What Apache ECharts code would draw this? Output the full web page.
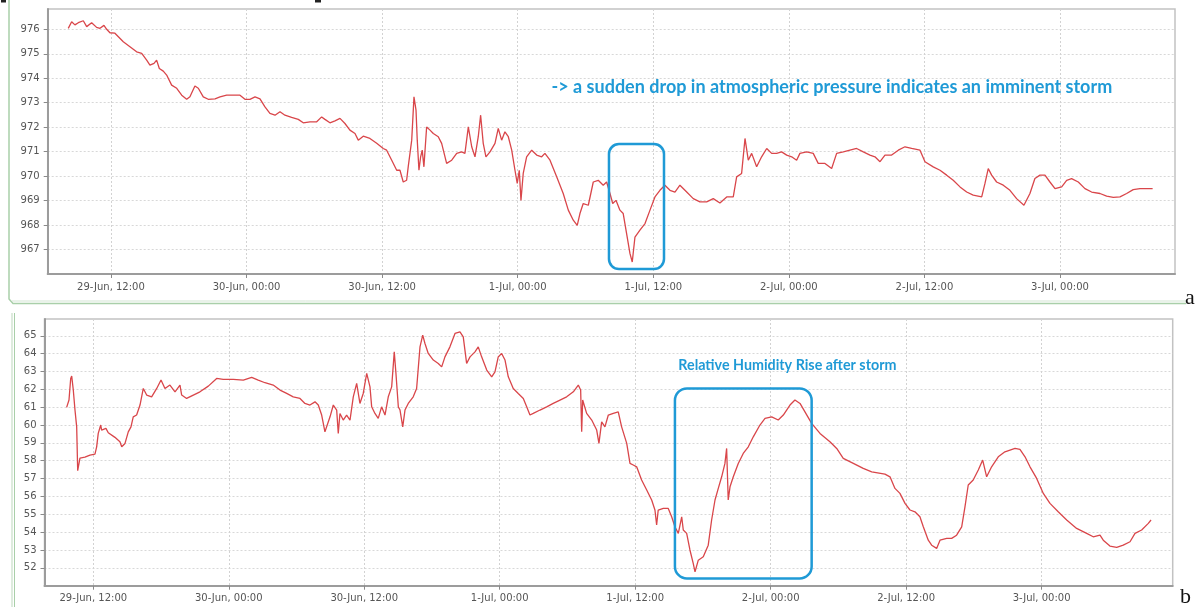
<!DOCTYPE html>
<html>
<head>
<meta charset="utf-8">
<script src="https://cdn.jsdelivr.net/npm/echarts@6/dist/echarts.min.js"></script>
<style>
html,body{margin:0;padding:0;background:#fff;}
#chart{width:1203px;height:607px;}
</style>
</head>
<body>
<div id="chart"></div>
<script>
// Time is counted in hours from 29-Jun 00:00.
const timeTickHours = [12, 24, 36, 48, 60, 72, 84, 96];
const timeTickLabels = ['29-Jun, 12:00', '30-Jun, 00:00', '30-Jun, 12:00', '1-Jul, 00:00',
  '1-Jul, 12:00', '2-Jul, 00:00', '2-Jul, 12:00', '3-Jul, 00:00'];
const pressureTicks = [967, 968, 969, 970, 971, 972, 973, 974, 975, 976];
const humidityTicks = [52, 53, 54, 55, 56, 57, 58, 59, 60, 61, 62, 63, 64, 65];

// (a) atmospheric pressure
const pressureHours = [8.22,8.52,8.81,9.11,9.55,9.85,10.29,10.73,11.03,11.38,11.62,11.91,12.35,13.09,13.68,14.27,14.72,15.16,15.45,15.81,16.04,16.28,16.63,16.93,17.37,17.82,18.26,18.70,18.99,19.43,19.73,20.17,20.61,21.21,21.65,22.24,22.82,23.42,23.86,24.30,24.75,25.19,25.63,26.07,26.52,26.96,27.40,27.99,28.58,29.02,29.61,30.21,30.65,30.94,31.38,31.83,32.27,32.71,33.15,33.60,33.89,34.33,34.92,35.52,36.10,36.40,36.85,37.29,37.58,37.87,38.17,38.31,38.62,38.82,39.00,39.11,39.26,39.41,39.55,39.70,39.94,40.24,40.53,40.97,41.27,41.71,42.16,42.60,43.04,43.33,43.63,43.93,44.22,44.51,44.72,44.95,45.19,45.55,45.99,46.28,46.58,46.87,47.17,47.47,47.76,47.96,48.14,48.29,48.49,48.79,49.24,49.68,50.12,50.41,50.86,51.45,52.03,52.48,52.92,53.27,53.51,53.80,54.25,54.69,55.13,55.57,55.87,56.17,56.41,56.70,57.05,57.34,57.64,57.94,58.14,58.38,58.82,59.27,59.71,60.15,60.59,61.03,61.48,61.92,62.36,62.96,63.54,64.13,64.73,65.31,65.90,66.50,67.08,67.38,67.82,68.12,68.41,68.71,69.15,69.59,70.04,70.48,70.92,71.36,71.81,72.25,72.69,72.98,73.58,74.16,74.60,75.20,75.79,76.23,76.82,77.41,78.00,78.59,79.18,79.62,80.07,80.51,81.10,81.69,82.28,82.87,83.61,84.05,84.78,85.38,85.97,86.55,87.15,87.74,88.32,89.07,89.36,89.65,89.95,90.39,90.98,91.57,92.16,92.81,93.34,93.78,94.23,94.67,95.11,95.56,96.15,96.59,97.03,97.62,98.21,98.80,99.54,100.13,100.72,101.31,101.90,102.48,103.08,103.67,104.20];
const pressureValues = [976.04,976.31,976.18,976.27,976.35,976.11,976.27,976.08,976.04,976.16,976.00,975.86,975.84,975.49,975.29,975.08,975.02,974.74,974.54,974.61,974.74,974.40,974.29,974.13,973.72,973.59,973.31,973.14,973.24,973.68,973.59,973.24,973.14,973.16,973.24,973.31,973.31,973.31,973.14,973.14,973.24,973.16,972.83,972.56,972.49,972.63,972.49,972.40,972.32,972.18,972.22,972.22,972.42,972.32,972.18,972.26,972.36,972.15,971.88,971.74,971.47,971.63,971.54,971.34,971.13,971.06,970.65,970.24,970.24,969.76,969.83,970.38,971.47,973.24,972.70,971.47,970.24,970.79,971.06,970.38,972.01,971.88,971.74,971.61,971.34,970.52,970.65,970.93,970.99,970.93,972.01,971.20,970.79,971.61,972.49,971.34,970.79,970.99,971.34,971.95,971.47,971.81,971.61,971.06,970.24,969.70,970.24,969.01,970.11,970.79,971.06,970.86,970.79,970.93,970.65,969.97,969.29,968.61,968.20,967.99,968.47,968.88,968.81,969.76,969.83,969.63,969.76,969.29,968.88,969.01,968.61,968.47,967.65,966.83,966.49,967.51,967.79,968.06,968.61,969.15,969.42,969.63,969.42,969.35,969.63,969.35,969.08,968.95,968.95,969.08,968.90,969.15,969.15,969.97,970.11,971.54,970.65,970.93,970.38,970.79,971.13,970.93,970.93,970.99,970.86,970.79,970.65,970.93,970.99,970.93,970.52,970.52,970.31,970.93,970.99,971.06,971.13,970.99,970.86,970.79,970.59,970.86,970.86,971.06,971.20,971.13,971.06,970.59,970.38,970.24,970.04,969.83,969.56,969.35,969.22,969.15,969.70,970.31,970.04,969.76,969.63,969.42,969.08,968.81,969.29,969.90,970.04,970.04,969.76,969.49,969.56,969.83,969.90,969.76,969.49,969.35,969.29,969.18,969.13,969.15,969.29,969.45,969.49,969.49,969.49];

// (b) relative humidity
const humidityHours = [9.64,9.85,10.00,10.09,10.23,10.38,10.53,10.62,10.82,11.26,11.71,12.15,12.30,12.44,12.66,12.74,12.89,13.12,13.33,13.92,14.36,14.52,14.81,15.10,15.34,15.54,15.84,16.14,16.43,16.73,17.17,17.62,18.00,18.35,18.79,19.24,19.68,19.83,20.27,20.86,21.45,22.19,22.93,23.51,24.40,25.29,26.03,26.61,27.21,27.94,28.54,29.13,29.71,30.31,30.75,31.19,31.64,31.93,32.23,32.52,32.67,32.97,33.26,33.56,33.70,33.85,34.14,34.44,34.74,35.03,35.33,35.62,35.91,36.22,36.51,36.66,36.95,37.24,37.54,37.84,38.13,38.43,38.66,38.81,39.02,39.17,39.41,39.61,39.90,40.34,40.64,40.94,41.18,41.38,41.67,42.12,42.56,42.86,43.15,43.59,44.04,44.48,44.77,45.07,45.37,45.81,46.10,46.40,46.85,47.29,47.58,47.87,48.17,48.47,48.76,49.20,49.64,50.09,50.39,50.68,50.97,51.57,52.16,52.74,53.34,53.93,54.52,54.96,55.17,55.26,55.35,55.70,56.15,56.59,56.79,57.03,57.32,57.62,58.06,58.50,58.80,59.25,59.54,59.83,60.13,60.57,61.02,61.46,61.75,61.90,62.04,62.49,62.93,63.23,63.52,63.82,64.12,64.26,64.56,64.85,65.14,65.30,65.59,66.03,66.47,66.77,67.07,67.36,67.66,67.95,68.10,68.24,68.40,68.69,69.13,69.57,70.02,70.46,71.05,71.50,72.09,72.67,73.12,73.71,74.15,74.60,75.63,76.37,77.25,77.85,78.43,79.32,80.20,80.95,82.12,82.57,83.01,83.45,83.90,84.34,84.78,85.22,85.52,85.96,86.26,86.70,87.00,87.59,88.03,88.47,88.92,89.21,89.50,89.94,90.39,90.78,91.13,91.57,92.16,92.75,93.20,93.64,94.08,94.53,94.97,95.56,96.15,96.74,97.47,98.22,99.10,99.99,100.57,101.17,101.46,102.05,102.65,103.23,103.83,104.27,104.86,105.45,105.69];
const humidityValues = [60.99,61.40,62.61,62.74,61.96,60.84,59.90,57.44,58.15,58.20,58.32,58.37,58.78,59.53,60.00,59.72,59.62,59.81,59.57,59.31,59.06,58.78,58.97,59.62,59.90,60.46,60.56,61.12,62.05,61.68,61.58,62.05,62.52,62.05,62.24,61.86,62.24,61.68,61.49,61.68,61.86,62.18,62.61,62.56,62.56,62.52,62.67,62.52,62.37,62.24,61.96,61.77,61.58,61.49,61.21,61.12,61.30,61.12,60.56,59.62,59.53,60.46,61.12,60.84,59.53,60.65,60.28,60.56,60.28,61.58,62.33,61.21,61.77,62.89,62.14,61.02,60.65,60.37,61.02,60.56,61.58,62.14,64.10,62.89,61.02,60.84,59.90,60.84,61.21,61.58,62.05,64.38,65.04,64.57,64.01,63.64,63.45,63.26,63.82,64.38,65.13,65.22,64.94,63.45,63.82,64.10,64.38,63.82,63.08,62.70,62.98,63.82,64.01,63.64,62.70,62.05,61.77,61.49,61.02,60.56,60.65,60.84,61.02,61.21,61.40,61.58,61.86,62.24,61.96,59.62,61.40,60.65,60.28,59.72,58.97,60.18,59.90,60.56,60.65,60.74,59.90,58.97,57.85,57.76,57.66,56.92,56.36,55.80,55.24,54.40,55.24,55.33,55.33,54.86,54.30,53.93,54.86,54.12,53.93,53.00,52.25,51.78,52.43,52.62,53.27,54.68,55.80,56.45,57.10,57.85,58.69,55.80,56.54,57.10,57.85,58.41,58.78,59.34,60.00,60.37,60.46,60.28,60.56,61.12,61.40,61.21,60.09,59.53,59.06,58.69,58.13,57.85,57.57,57.38,57.25,57.10,56.45,56.17,55.61,55.24,55.14,54.86,54.30,53.55,53.27,53.09,53.55,53.65,53.65,53.83,54.30,55.42,56.64,56.92,57.48,58.04,57.10,57.66,58.22,58.50,58.60,58.69,58.64,58.22,57.66,57.01,56.17,55.61,55.14,54.68,54.21,53.93,53.74,53.83,53.55,53.22,53.15,53.27,53.46,53.93,54.12,54.49,54.68];

// Highlighted storm windows, in data coordinates: [hourFrom, hourTo, valueLow, valueHigh]
const pressureStormBox = [56.08, 60.95, 966.20, 971.31];
const humidityStormBox = [63.52, 75.63, 51.41, 62.05];
const pressureNote = { text: '-> a sudden drop in atmospheric pressure indicates an imminent storm', at: [51.0, 973.64] };
const humidityNote = { text: 'Relative Humidity Rise after storm', at: [63.82, 63.32] };

function pairs(xs, ys) {
  const n = Math.min(xs.length, ys.length);
  const out = [];
  for (let i = 0; i < n; i++) out.push([xs[i], ys[i]]);
  return out;
}

const LABEL_FONT = 'DejaVu Sans';
const NOTE_BLUE = '#1f9ad6';
const LINE_RED = '#d9464a';

function timeAxis(gridIndex, min, max) {
  return {
    type: 'value', gridIndex, min, max,
    axisLine: { show: true, lineStyle: { color: '#9c9c9c', width: 2 } },
    axisTick: { show: true, length: 4, customValues: timeTickHours, lineStyle: { color: '#8a8a8a' } },
    axisLabel: {
      customValues: timeTickHours, margin: 8, color: '#555', fontFamily: LABEL_FONT, fontSize: 10,
      formatter: v => { const i = timeTickHours.indexOf(v); return i < 0 ? '' : timeTickLabels[i]; }
    },
    splitLine: { show: true, lineStyle: { color: '#d2d2d2', type: [2, 2], width: 1 } }
  };
}

function valueAxis(gridIndex, min, max, ticks) {
  return {
    type: 'value', gridIndex, min, max,
    axisLine: { show: true, lineStyle: { color: '#9c9c9c', width: 2 } },
    axisTick: { show: true, length: 4, customValues: ticks, lineStyle: { color: '#8a8a8a' } },
    axisLabel: { customValues: ticks, margin: 8, color: '#555', fontFamily: LABEL_FONT, fontSize: 10 },
    splitLine: { show: true, lineStyle: { color: '#d8d8d8', type: [2, 2], width: 1 } }
  };
}

const chart = echarts.init(document.getElementById('chart'), null, { renderer: 'canvas' });

chart.setOption({
  animation: false,
  backgroundColor: '#fff',
  grid: [
    { left: 47.7, top: 9, width: 1127.3, height: 265, show: true, borderColor: '#c2c2c2', borderWidth: 1.5, containLabel: false },
    { left: 44.5, top: 319, width: 1128.2, height: 266.7, show: true, borderColor: '#c2c2c2', borderWidth: 1.5, containLabel: false }
  ],
  xAxis: [timeAxis(0, 6.40, 106.18), timeAxis(1, 7.68, 107.61)],
  yAxis: [valueAxis(0, 966, 976.83, pressureTicks), valueAxis(1, 51, 65.94, humidityTicks)],
  series: [
    {
      name: 'Pressure', type: 'line', xAxisIndex: 0, yAxisIndex: 0,
      data: pairs(pressureHours, pressureValues), showSymbol: false,
      lineStyle: { color: LINE_RED, width: 1.3 }
    },
    {
      name: 'Relative Humidity', type: 'line', xAxisIndex: 1, yAxisIndex: 1,
      data: pairs(humidityHours, humidityValues), showSymbol: false,
      lineStyle: { color: LINE_RED, width: 1.3 }
    }
  ]
});

function boxGraphic(gridIndex, box, r) {
  const p1 = chart.convertToPixel({ gridIndex }, [box[0], box[3]]);
  const p2 = chart.convertToPixel({ gridIndex }, [box[1], box[2]]);
  return {
    type: 'rect', z: 100,
    shape: { x: p1[0], y: p1[1], width: p2[0] - p1[0], height: p2[1] - p1[1], r },
    style: { fill: 'none', stroke: NOTE_BLUE, lineWidth: 2.5 }
  };
}

function noteGraphic(gridIndex, note, size) {
  const p = chart.convertToPixel({ gridIndex }, note.at);
  return {
    type: 'text', z: 100,
    style: {
      text: note.text, x: p[0], y: p[1], fill: NOTE_BLUE,
      fontFamily: 'Lato', fontWeight: 'bold', fontSize: size,
      align: 'left', verticalAlign: 'middle'
    }
  };
}

// Panel frames and panel letters
const frameGreen = '#a9cfa9';
const frameLight = '#d3e5d3';

chart.setOption({
  graphic: [
    boxGraphic(0, pressureStormBox, 10),
    boxGraphic(1, humidityStormBox, 12),
    noteGraphic(0, pressureNote, 18),
    noteGraphic(1, humidityNote, 14.3),
    { type: 'polyline', shape: { points: [[9, 0], [9, 299], [13, 303.5], [1186, 303.5]] },
      style: { fill: 'none', stroke: frameGreen, lineWidth: 1.5 } },
    { type: 'line', shape: { x1: 12, y1: 301, x2: 1186, y2: 301 },
      style: { stroke: frameLight, lineWidth: 1 } },
    { type: 'line', shape: { x1: 12, y1: 313, x2: 12, y2: 607 },
      style: { stroke: frameLight, lineWidth: 1.5 } },
    { type: 'line', shape: { x1: 14.5, y1: 313, x2: 14.5, y2: 607 },
      style: { stroke: frameGreen, lineWidth: 1 } },
    { type: 'rect', shape: { x: 1, y: 0, width: 5, height: 2.5 }, style: { fill: '#222' } },
    { type: 'rect', shape: { x: 315, y: 0, width: 6, height: 2.5 }, style: { fill: '#222' } },
    { type: 'text', style: { text: 'a', x: 1185, y: 287, fill: '#111', fontFamily: 'Liberation Serif', fontSize: 22, verticalAlign: 'top' } },
    { type: 'text', style: { text: 'b', x: 1180, y: 586, fill: '#111', fontFamily: 'Liberation Serif', fontSize: 22, verticalAlign: 'top' } }
  ]
});
</script>
</body>
</html>
